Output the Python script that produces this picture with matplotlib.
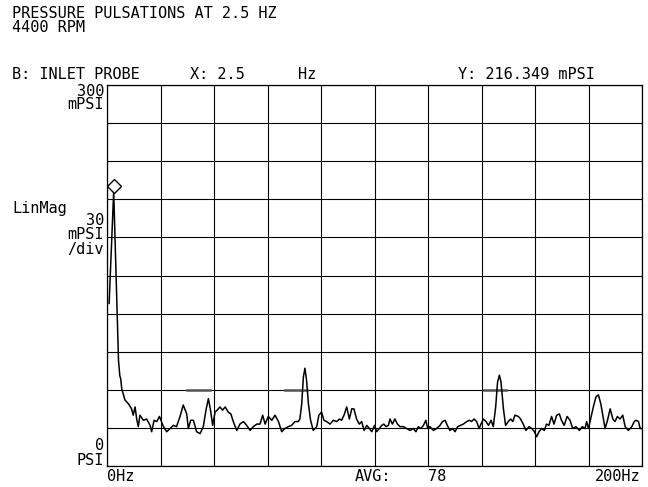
import matplotlib
matplotlib.use('Agg')
import matplotlib.pyplot as plt

# spectrum trace, inlet probe (Hz, mPSI)
freq_hz = [0.8, 2.5, 4.3, 4.8, 5.1, 5.5, 6.7, 8.0, 9.2, 9.8, 10.5, 11.1, 11.7, 12.3,
           13.6, 14.8, 16.1, 16.7, 17.6, 18.6, 19.6, 21.1, 22.3, 23.6, 24.8, 26.0,
           27.3, 28.5, 29.8, 30.4, 31.3, 32.3, 33.5, 34.8, 36.0, 37.0, 37.9, 38.7,
           39.5, 40.4, 41.2, 42.2, 43.2, 44.2, 45.3, 46.3, 47.2, 48.5, 49.7, 51.0,
           52.2, 53.5, 54.7, 56.0, 57.2, 58.2, 59.1, 60.3, 61.6, 62.8, 64.1, 65.3,
           66.5, 67.8, 69.0, 70.3, 71.5, 72.1, 72.8, 73.4, 74.0, 74.6, 75.3, 76.1,
           77.1, 78.4, 79.2, 80.2, 81.1, 82.1, 83.4, 84.6, 85.9, 86.9, 87.7, 88.6,
           89.6, 90.6, 91.5, 92.3, 93.3, 94.3, 95.2, 96.1, 97.1, 98.1, 99.0, 100.0,
           100.8, 101.8, 102.7, 103.5, 104.3, 105.2, 105.8, 106.7, 107.6, 108.6,
           109.5, 110.8, 112.0, 113.3, 114.5, 115.5, 116.4, 117.3, 118.3, 119.2,
           119.9, 120.7, 122.0, 123.2, 124.5, 125.4, 126.4, 127.2, 128.2, 129.2,
           130.1, 131.1, 132.2, 133.2, 134.5, 135.5, 136.3, 137.2, 138.2, 139.1,
           139.8, 140.7, 141.7, 142.6, 143.6, 144.4, 145.3, 146.0, 146.7, 147.3,
           148.2, 149.0, 150.0, 150.9, 151.7, 152.5, 153.8, 154.6, 155.6, 156.6,
           157.8, 158.8, 159.8, 160.6, 161.5, 162.5, 163.5, 164.3, 165.2, 166.2,
           167.1, 168.1, 169.1, 169.9, 170.9, 172.0, 173.1, 174.1, 175.3, 176.6,
           177.7, 178.7, 179.3, 180.0, 180.8, 181.8, 182.8, 183.7, 184.6, 185.6,
           186.2, 187.1, 188.1, 189.1, 189.9, 190.8, 191.8, 192.8, 193.7, 194.9,
           196.2, 197.1, 197.8, 198.7, 199.3, 199.6]
mag_mpsi = [128, 216.349, 83, 71, 69, 61, 52, 49, 45, 40, 46.5, 37, 31, 40,
            36, 37, 32, 27, 36, 35, 39, 31, 27, 29.5, 32, 31,
            39, 48, 41, 29.5, 36, 36, 27, 25.5, 31, 44, 53, 44,
            32, 42.5, 44, 46.5, 44, 46.5, 42.5, 41, 35, 28, 33, 35,
            32, 28, 31, 33, 33, 40, 33, 39, 36, 40, 35, 27,
            29.5, 31, 32, 35, 35, 37, 49, 70, 77, 67.5, 49, 36,
            28, 31, 40, 42.5, 36, 35, 33, 36, 35, 37, 36, 40,
            46.5, 37, 45, 45, 37, 33, 35, 28, 32, 29.5, 27, 32,
            27, 29.5, 32, 33, 31, 32, 37, 33, 37, 33,
            31, 31, 29.5, 28, 29.5, 27, 31, 29.5, 32, 36,
            29.5, 31, 28, 29.5, 32, 35, 36, 32, 28, 29.5,
            27, 31, 32, 33, 35, 36, 35, 37, 35, 29.5,
            33, 37, 35, 32, 36, 31, 46.5, 66, 71.5, 66,
            45, 32, 35, 37, 35, 40, 39, 37, 33, 28,
            31, 29.5, 27, 23, 27, 29.5, 28, 33, 32, 39,
            33, 40, 41, 36, 32, 39, 36, 29.5, 31, 28,
            31, 29.5, 35, 29.5, 37, 46.5, 54.5, 56, 49, 37,
            29.5, 36, 45, 37, 35, 39, 37, 40, 31, 28,
            31, 35, 36, 35, 29.5, 29.5]

marker_hz = 2.5
marker_mpsi = 216.349
avg_count = 78
# harmonic cursor bars on the 60 mPSI line (start Hz, end Hz)
harmonic_bars = [(29.8, 38.5), (66.5, 74.7), (141.0, 149.0)]

W, H = 648, 487
fig = plt.figure(figsize=(W / 100, H / 100), dpi=100)
ax = fig.add_axes([107 / W, 1 - 466 / H, 535 / W, 381 / H])
ax.set_xlim(0, 200)
ax.set_ylim(0, 300)
ax.set_xticks(range(0, 201, 20))
ax.set_yticks(range(0, 301, 30))
ax.grid(True, color='black', linewidth=0.8)
ax.tick_params(length=0, labelbottom=False, labelleft=False)
for s in ax.spines.values():
    s.set_linewidth(0.9)

for a, b in harmonic_bars:
    ax.plot([a, b], [60, 60], color='#555555', linewidth=1.8, zorder=3)

ax.plot(freq_hz, mag_mpsi, color='black', linewidth=1.1, zorder=4)
ax.plot([marker_hz], [marker_mpsi + 4], marker='D', markersize=7, markerfacecolor='white',
        markeredgecolor='black', markeredgewidth=1.0, zorder=5, clip_on=False)

mono = 'DejaVu Sans Mono'
fs = 11


def label(x, y, s, ha='left', ls=1.2):
    # y is the baseline of the last line, in pixels from the top
    fig.text(x / W, 1 - y / H, s, ha=ha, va='baseline', family=mono, fontsize=fs,
             linespacing=ls, multialignment=ha)


label(12, 18.5, 'PRESSURE PULSATIONS AT 2.5 HZ')
label(12, 32, '4400 RPM')
label(12, 79, 'B: INLET PROBE')
label(190, 79, 'X: %.1f' % marker_hz)
label(298, 79, 'Hz')
label(458, 79, 'Y: %.3f mPSI' % marker_mpsi)
label(104, 109, '300\nmPSI', ha='right', ls=0.83)
label(12, 213, 'LinMag')
label(104, 254, '30\nmPSI\n/div', ha='right', ls=0.97)
label(104, 465, '0\nPSI', ha='right', ls=1.03)
label(107, 481, '0Hz')
label(355, 481, 'AVG:')
label(428, 481, '%d' % avg_count)
label(641, 481, '200Hz', ha='right')

fig.savefig('out.png', dpi=100, facecolor='white')
